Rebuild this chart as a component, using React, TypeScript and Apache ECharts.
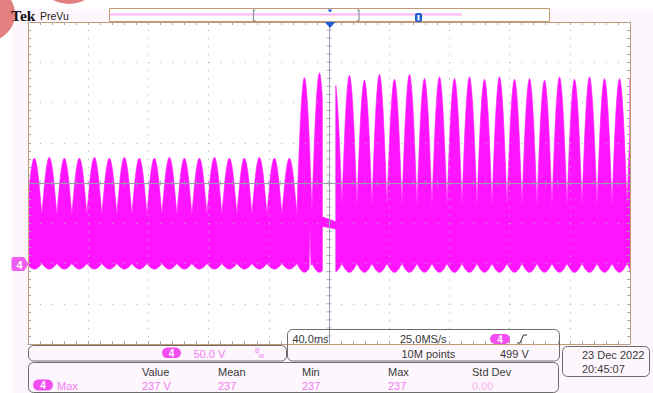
import React, { useEffect, useRef } from 'react';
import * as echarts from 'echarts';

// Acquisition: 40 ms/div over 10 div, 50 V/div over 8 div, channel 4 ground two divisions up.
const TIME_MIN = 0;
const TIME_MAX = 400;
const TIME_DIV = 40;
const VOLT_MIN = -100;
const VOLT_MAX = 300;
const VOLT_DIV = 50;

// Rectified mains crests (one per half cycle), in volts.
const HALF_PERIOD_MS = 9.97;
const FIRST_CREST_MS = 4.2;
const steadyCrestsV = [131, 132, 131, 131, 132, 131, 132, 131, 131, 132, 131, 131, 132, 131, 131, 132, 131, 131];
const surgeCrestsV = [231, 237];
const recoveredCrestsV = [229, 234, 228, 235, 229, 235, 230, 232, 230, 232, 229, 232, 229, 230, 228, 232, 229, 232, 230, 230, 230];
// Upper envelope at each zero crossing and lower envelope under each crest, per stretch.
const valleyV = [60, 66, 72];
const floorV = [-7, -11, -11];
// Normalised profile of one half cycle.
const halfWaveProfile = [0, 0.2, 0.38, 0.56, 0.71, 0.83, 0.92, 0.98, 1, 0.98, 0.92, 0.83, 0.71, 0.56, 0.38, 0.2, 0];
// Drop-out after the surge: [time ms, upper V, lower V].
const dropoutV: number[][] = [
  [195.6, 201, -8],
  [195.6, 58, 46],
  [204.5, 52, 43],
  [204.5, 221, -10],
];
const notch = { t: 187.3, lowerV: 50 };

// Readouts
const measureHeaders = ['Value', 'Mean', 'Min', 'Max', 'Std Dev'];
const measureValues = ['237 V', '237', '237', '237', '0.00'];
const measureName = 'Max';
const channelLabel = '4';
const channelScale = '50.0 V';
const timeScale = '40.0ms';
const sampleRate = '25.0MS/s';
const recordLength = '10M points';
const triggerLevel = '499 V';
const dateDay = '23 Dec';
const dateYear = '2022';
const clockText = '20:45:07';

const FONT = '"Liberation Sans", Arial, sans-serif';
const BORDER = '#c49a74';
const PANEL = '#6c6c6c';
const DOT = '#b2b2b2';
const CENTER = '#9c9cae';
const WAVE = '#ff14ff';
const PILL = '#f24cf2';
const MAG_TEXT = '#f07cf0';
const INK = '#3a3a3a';
const BLUE = '#1f5fd6';

function buildEnvelope(): number[][] {
  const stretches = [steadyCrestsV, surgeCrestsV, recoveredCrestsV];
  const pts: number[][] = [];
  const n = halfWaveProfile.length - 1;
  let k = 0;
  stretches.forEach((crests, s) => {
    crests.forEach((crest) => {
      const tc = FIRST_CREST_MS + k * HALF_PERIOD_MS;
      halfWaveProfile.forEach((f, i) => {
        if (k > 0 && i === 0) return;
        const t = tc + (i / n - 0.5) * HALF_PERIOD_MS;
        pts.push([t, valleyV[s] + (crest - valleyV[s]) * f, floorV[s] * f]);
      });
      k++;
    });
  });
  const start = dropoutV[0][0];
  const end = dropoutV[dropoutV.length - 1][0];
  const kept = pts.filter((p) => p[0] < start || p[0] > end);
  const at = kept.findIndex((p) => p[0] > end);
  kept.splice(at, 0, ...dropoutV.map((p) => [...p]));
  let best = 0;
  kept.forEach((p, i) => {
    if (Math.abs(p[0] - notch.t) < Math.abs(kept[best][0] - notch.t)) best = i;
  });
  kept[best][2] = notch.lowerV;
  return kept.map((p) => [Math.min(TIME_MAX, Math.max(TIME_MIN, p[0])), p[1], p[2]]);
}

function txt(x: number, y: number, text: string, fill: string, size = 11, extra: any = {}) {
  return {
    type: 'text',
    x,
    y,
    z: 30,
    style: {
      text,
      fill,
      font: `${size}px ${FONT}`,
      textAlign: 'left',
      textVerticalAlign: 'middle',
      align: 'left',
      verticalAlign: 'middle',
      ...extra,
    },
  };
}

function pill(x: number, y: number, w: number, h: number, label: string) {
  return {
    type: 'group',
    children: [
      { type: 'rect', z: 30, shape: { x, y, width: w, height: h, r: h / 2 }, style: { fill: PILL } },
      {
        type: 'text',
        z: 31,
        x: x + w / 2,
        y: y + h / 2 + 0.5,
        style: {
          text: label,
          fill: '#ffffff',
          font: `bold 10px ${FONT}`,
          textAlign: 'center',
          textVerticalAlign: 'middle',
          align: 'center',
          verticalAlign: 'middle',
        },
      },
    ],
  };
}

function panel(x: number, y: number, w: number, h: number) {
  return { type: 'rect', z: 25, shape: { x, y, width: w, height: h, r: 5 }, style: { fill: 'none', stroke: PANEL, lineWidth: 1 } };
}

function frameAxis(position: string, extra: any = {}) {
  return {
    type: 'value',
    position,
    z: 3,
    axisLine: { show: true, onZero: false, lineStyle: { color: BORDER, width: 1 } },
    axisTick: { show: true, inside: true, length: 3, lineStyle: { color: '#a6a6a6' } },
    minorTick: { show: true, splitNumber: 5, length: 3, lineStyle: { color: '#a6a6a6' } },
    axisLabel: { show: false },
    splitLine: { show: false },
    ...extra,
  };
}

export default function App() {
  const ref = useRef<HTMLDivElement>(null);

  useEffect(() => {
    if (!ref.current) return;
    const chart = echarts.init(ref.current, undefined, { renderer: 'svg' });
    const envelope = buildEnvelope();

    const timeAxis = { min: TIME_MIN, max: TIME_MAX, interval: TIME_DIV };
    const voltAxis = { min: VOLT_MIN, max: VOLT_MAX, interval: VOLT_DIV };

    const hTicks: number[][] = [];
    for (let t = TIME_MIN + 8; t < TIME_MAX; t += 8) hTicks.push([t, 100]);
    const vTicks: number[][] = [];
    for (let v = VOLT_MIN + 10; v < VOLT_MAX; v += 10) vTicks.push([200, v]);

    chart.setOption({
      animation: false,
      backgroundColor: '#fdf6fc',
      grid: { left: 28, top: 22, width: 602, height: 322, show: true, backgroundColor: '#ffffff', borderWidth: 0 },
      xAxis: [
        frameAxis('bottom', {
          ...timeAxis,
          splitLine: { show: true, lineStyle: { color: DOT, width: 1, type: [1, 7.05] } },
        }),
        frameAxis('top', { ...timeAxis }),
      ],
      yAxis: [
        frameAxis('left', {
          ...voltAxis,
          splitLine: { show: true, lineStyle: { color: DOT, width: 1, type: [1, 11.04] } },
        }),
        frameAxis('right', { ...voltAxis }),
      ],
      series: [
        {
          type: 'custom',
          z: 2,
          clip: true,
          silent: true,
          data: [[200, 100]],
          encode: { x: 0, y: 1 },
          renderItem: (_params: any, api: any) => {
            const upper = envelope.map((p) => api.coord([p[0], p[1]]));
            const lower = envelope
              .slice()
              .reverse()
              .map((p) => api.coord([p[0], p[2]]));
            return {
              type: 'polygon',
              shape: { points: upper.concat(lower) },
              style: { fill: WAVE, stroke: WAVE, lineWidth: 0.6 },
            };
          },
        },
        {
          type: 'scatter',
          z: 5,
          silent: true,
          symbol: 'rect',
          symbolSize: [1, 5],
          itemStyle: { color: CENTER },
          data: hTicks,
          markLine: {
            silent: true,
            symbol: ['none', 'none'],
            label: { show: false },
            lineStyle: { color: CENTER, width: 1, type: 'solid' },
            data: [{ xAxis: 200 }, { yAxis: 100 }],
          },
        },
        {
          type: 'scatter',
          z: 5,
          silent: true,
          symbol: 'rect',
          symbolSize: [5, 1],
          itemStyle: { color: CENTER },
          data: vTicks,
        },
      ],
    });

    const ground = chart.convertToPixel({ yAxisIndex: 0 }, 0) as number;
    const gy = Math.round(ground);

    const headerX = [142, 218, 302, 388, 472];

    const graphic: any[] = [
      // page margins
      { type: 'rect', z: 1, shape: { x: 0, y: 0, width: 653, height: 9 }, style: { fill: '#ffffff' } },
      { type: 'rect', z: 1, shape: { x: 0, y: 0, width: 12, height: 393 }, style: { fill: '#ffffff' } },
      { type: 'circle', z: 2, shape: { cx: -12, cy: 14, r: 27 }, style: { fill: '#e27f7f' } },
      { type: 'circle', z: 2, shape: { cx: 69, cy: -30, r: 34 }, style: { fill: '#e27f7f' } },
      // brand
      {
        type: 'text',
        z: 30,
        x: 11,
        y: 15,
        style: {
          text: 'Tek',
          fill: '#111111',
          font: 'bold 15.5px "Liberation Serif", serif',
          textAlign: 'left',
          textVerticalAlign: 'middle',
          align: 'left',
          verticalAlign: 'middle',
        },
      },
      txt(40, 15.5, 'PreVu', '#222222', 10.5),
      // record overview bar
      { type: 'rect', z: 20, shape: { x: 109.5, y: 8.5, width: 440, height: 13 }, style: { fill: '#ffffff', stroke: BORDER, lineWidth: 1 } },
      { type: 'line', z: 21, shape: { x1: 110, y1: 14.5, x2: 462, y2: 14.5 }, style: { stroke: '#ffb3f5', lineWidth: 2 } },
      { type: 'polyline', z: 22, shape: { points: [[255.5, 10], [253.5, 10], [253.5, 20.5], [255.5, 20.5]] }, style: { stroke: '#8a92a6', lineWidth: 1.2, fill: 'none' } },
      { type: 'polyline', z: 22, shape: { points: [[357, 10], [359, 10], [359, 20.5], [357, 20.5]] }, style: { stroke: '#8a92a6', lineWidth: 1.2, fill: 'none' } },
      { type: 'polygon', z: 22, shape: { points: [[327.5, 9.5], [332.5, 9.5], [330, 12.5]] }, style: { fill: BLUE } },
      { type: 'rect', z: 22, shape: { x: 415, y: 13, width: 7, height: 9, r: 2 }, style: { fill: BLUE } },
      { type: 'rect', z: 23, shape: { x: 417.5, y: 15, width: 2, height: 5.5 }, style: { fill: '#ffffff' } },
      // trigger position
      { type: 'polygon', z: 30, shape: { points: [[324.5, 22], [335.5, 22], [330, 28]] }, style: { fill: BLUE } },
      // channel 4 ground marker
      {
        type: 'polygon',
        z: 30,
        shape: { points: [[13, gy - 7], [24, gy - 7], [28.5, gy], [24, gy + 7], [13, gy + 7], [11.5, gy + 5.5], [11.5, gy - 5.5]] },
        style: { fill: '#ef5cef' },
      },
      txt(16.5, gy + 0.5, channelLabel, '#ffffff', 11, { font: `bold 11px ${FONT}` }),
      // vertical scale panel
      panel(28.5, 345.5, 258, 15.5),
      pill(162, 347.5, 19, 10.5, channelLabel),
      txt(193.5, 353.5, channelScale, MAG_TEXT),
      txt(255, 350, 'B', MAG_TEXT, 6.5),
      txt(258.5, 355.5, 'W', MAG_TEXT, 6),
      // horizontal / acquisition panel
      panel(287.5, 329.5, 272, 31.5),
      txt(292.5, 339, timeScale, INK),
      txt(400, 339, sampleRate, INK),
      pill(490, 334, 20, 10, channelLabel),
      { type: 'polyline', z: 30, shape: { points: [[517, 343], [520, 343], [523.5, 335], [527, 335]] }, style: { stroke: '#333333', lineWidth: 1, fill: 'none' } },
      txt(401.5, 353.5, recordLength, INK),
      txt(500, 353.5, triggerLevel, INK),
      // date panel
      panel(562.5, 346.5, 87, 30),
      txt(582, 355, dateDay, INK),
      txt(620, 355, dateYear, INK),
      txt(582, 368.5, clockText, INK),
      // measurement panel
      panel(28.5, 362.5, 530, 30),
      pill(33, 379.5, 20, 11, channelLabel),
      txt(57, 385.5, measureName, MAG_TEXT),
    ];
    measureHeaders.forEach((h, i) => graphic.push(txt(headerX[i], 371.5, h, INK)));
    measureValues.forEach((v, i) =>
      graphic.push(txt(headerX[i], 385.5, v, i === measureValues.length - 1 ? '#f7b0f3' : MAG_TEXT))
    );

    chart.setOption({ graphic });

    return () => chart.dispose();
  }, []);

  return (
    <div
      ref={ref}
      style={{ position: 'fixed', left: 0, top: 0, width: 653, height: 393, background: '#ffffff' }}
    />
  );
}
